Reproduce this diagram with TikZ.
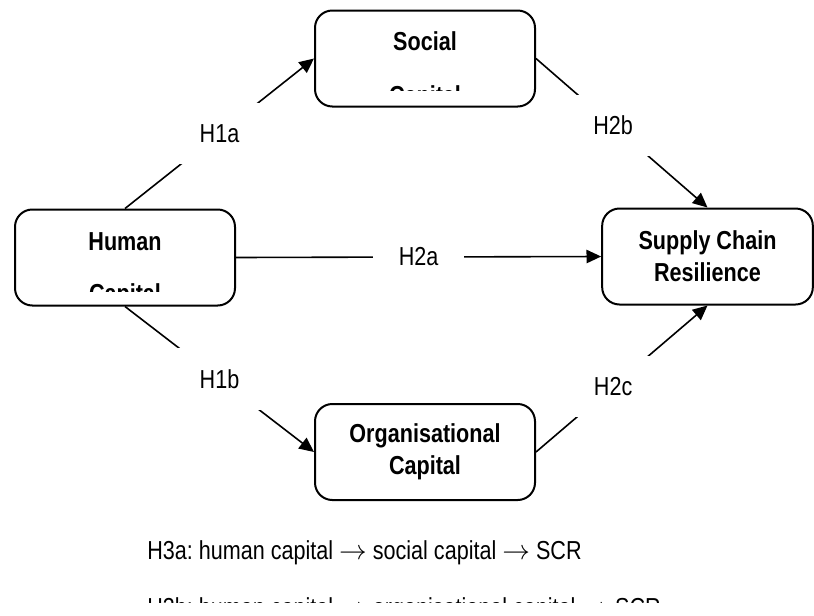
\documentclass[tikz,border=0pt]{standalone}
\usepackage{fontspec}
\setmainfont{Liberation Sans}[FakeStretch=0.83]
\usetikzlibrary{arrows.meta}
\frenchspacing

\begin{document}
\begin{tikzpicture}[x=0.75pt, y=-0.75pt,
	capbox/.style={rectangle, draw, line width=1.5pt, rounded corners=13pt, minimum width=165pt, minimum height=72pt, inner sep=0pt, align=center, font=\fontsize{19.5}{24}\selectfont\bfseries},
	boxtext/.style={inner sep=0pt, font=\fontsize{19.5}{24}\selectfont\bfseries},
	hyp/.style={fill=white, inner xsep=19pt, inner ysep=16pt, font=\fontsize{19.5}{24}\selectfont},
	link/.style={line width=1.2pt, -{Triangle[length=11pt,width=10pt]}}]
	\path[use as bounding box, fill=white] (0,0) rectangle (814,615);

	\node[capbox] (social) at (425,58.5) {};
	\node[capbox] (human) at (125,257.5) {};
	\node[capbox, minimum width=158pt] (scr) at (707.5,256.5) {Supply Chain\\Resilience};
	\node[capbox] (org) at (425,452) {Organisational\\Capital};

	% Text cut off by the box
	\begin{scope}
		\clip (social.north west) rectangle ([yshift=12.5pt]social.south east);
		\node[boxtext, anchor=base] (socialname) at (425,50) {Social};
		\node[boxtext, anchor=base] (socialcap) at (425,104) {Capital};
	\end{scope}
	\begin{scope}
		\clip (human.north west) rectangle ([yshift=11pt]human.south east);
		\node[boxtext, anchor=base] (humanname) at (125,250) {Human};
		\node[boxtext, anchor=base] (humancap) at (125,302) {Capital};
	\end{scope}

	% Arrows
	\draw[link] (human.north) -- node[hyp] (h1a) {H1a} (social.west);
	\draw[link] (human.south) -- node[hyp] (h1b) {H1b} (org.west);
	\draw[link] (human.east) -- node[hyp] (h2a) {H2a} (scr.west);
	\draw[link] (social.east) -- node[hyp, pos=0.45] (h2b) {H2b} (scr.north);
	\draw[link] (org.east) -- node[hyp, pos=0.45] (h2c) {H2c} (scr.south);

	% Mediation
	\node[anchor=base west, inner sep=0pt, font=\fontsize{19.5}{24}\selectfont] (h3a) at (147,559) {H3a: human capital $\rightarrow$ social capital $\rightarrow$ SCR};
	\begin{scope}
		\clip (0,570) rectangle (814,602);
		\node[anchor=base west, inner sep=0pt, font=\fontsize{19.5}{24}\selectfont] (h3b) at (147,616) {H3b: human capital $\rightarrow$ organisational capital $\rightarrow$ SCR};
	\end{scope}
\end{tikzpicture}
\end{document}
